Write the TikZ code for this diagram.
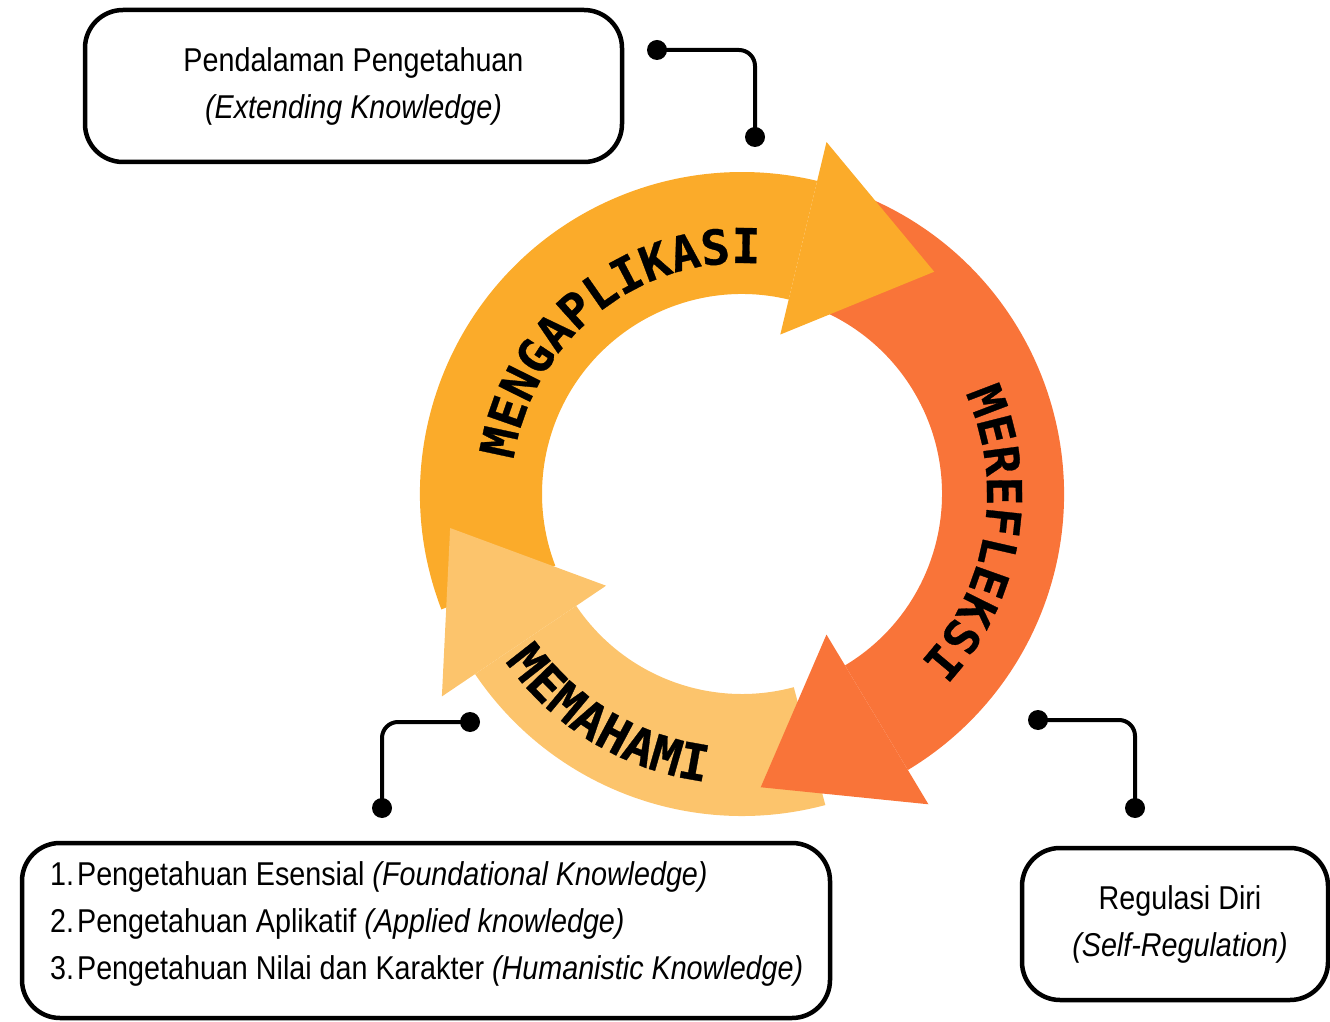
\documentclass[tikz,border=0pt]{standalone}
\usepackage{fontspec}
\setmainfont{Liberation Sans}[FakeStretch=0.87]
\newfontfamily\arcfont{DejaVu Sans Mono}[FakeBold=0.6]
\usetikzlibrary{decorations.text,calc}
\definecolor{cyellow}{RGB}{251,171,42}
\definecolor{corange}{RGB}{249,116,57}
\definecolor{clight}{RGB}{252,196,108}
\tikzset{
  box/.style={draw=black, line width=4.5pt, rounded corners=38pt, fill=white},
  dotnode/.style={circle, fill=black, inner sep=0pt, minimum size=20pt},
  conn/.style={line width=4pt, rounded corners=16pt},
  boxtext/.style={font=\fontsize{33}{47}\selectfont, inner sep=0pt},
  arclabel/.style={decorate, decoration={text along path, text align=center, text={#1}}},
}
\newcommand\arcbody[3]{\fill[#3] (#1:322) arc[start angle=#1, end angle=#2, radius=322] -- (#2:200) arc[start angle=#2, end angle=#1, radius=200] -- cycle;}
\newcommand\archead[2]{\fill[#2] (#1:362) -- ([shift={(#1-90:135)}]#1:261) -- (#1:164) -- cycle;}
\begin{document}
\begin{tikzpicture}[x=1pt,y=1pt]
\useasboundingbox (0,0) rectangle (1330,1021);
% ring
\begin{scope}[shift={(742,527)}]
  \arcbody{201}{76.5}{cyellow}
  \arcbody{66}{-59}{corange}
  \arcbody{-75}{-146}{clight}
  \archead{76.5}{cyellow}
  \archead{-59}{corange}
  \archead{-146}{clight}
  \path[arclabel={|\arcfont\bfseries\fontsize{48}{48}\selectfont|MENGAPLIKASI}] (178.5:231) arc[start angle=178.5, end angle=78.5, radius=231];
  \path[arclabel={|\arcfont\bfseries\fontsize{48}{48}\selectfont|MEREFLEKSI}] (40.5:245) arc[start angle=40.5, end angle=-59.5, radius=245];
  \path[arclabel={|\arcfont\bfseries\fontsize{50}{50}\selectfont|MEMAHAMI}] (189:290) arc[start angle=189, end angle=289, radius=290];
\end{scope}
% boxes
\node[box, minimum width=537pt, minimum height=152pt] (top) at (353.5,935) {};
\node[boxtext, align=center] (toptext) at (353.5,935) {Pendalaman Pengetahuan\\\itshape(Extending Knowledge)};
\node[box, minimum width=808pt, minimum height=175pt] (left) at (426,90.5) {};
\node[boxtext, align=left, anchor=west] (lefttext) at (50,97.5) {1.\kern3pt Pengetahuan Esensial \textit{(Foundational Knowledge)}\\2.\kern3pt Pengetahuan Aplikatif \textit{(Applied knowledge)}\\3.\kern3pt Pengetahuan Nilai dan Karakter \textit{(Humanistic Knowledge)}};
\node[box, minimum width=306pt, minimum height=152pt] (right) at (1175,97) {};
\node[boxtext, align=center] (righttext) at (1180,97) {Regulasi Diri\\\itshape(Self-Regulation)};
% connectors
\node[dotnode] (d1) at (657,971) {};
\node[dotnode] (d2) at (755,884) {};
\node[dotnode] (d3) at (470,299) {};
\node[dotnode] (d4) at (382,213) {};
\node[dotnode] (d5) at (1038,301) {};
\node[dotnode] (d6) at (1135,213) {};
\draw[conn] (d1.center) -| (d2.center);
\draw[conn] (d3.center) -| (d4.center);
\draw[conn] (d5.center) -| (d6.center);
\end{tikzpicture}
\end{document}
